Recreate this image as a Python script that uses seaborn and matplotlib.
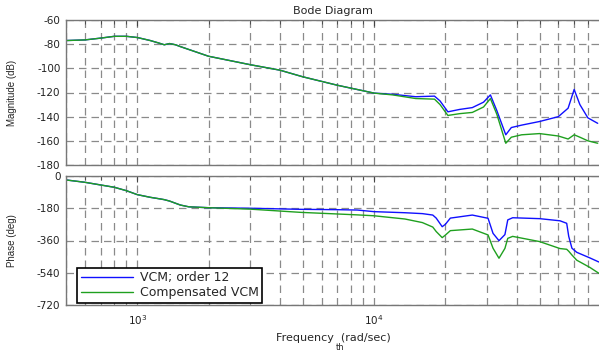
import numpy as np
import pandas as pd
import matplotlib
matplotlib.use("Agg")
import matplotlib.pyplot as plt
from matplotlib.ticker import LogLocator, NullFormatter, FixedLocator
import seaborn as sns

# Values
freq_mag = [500, 600, 700, 800, 900, 1000, 1135, 1230, 1300, 1370, 1450, 1520,
            2000, 3000, 4000, 5000, 7000, 10000, 12000, 15000, 18000, 19000,
            20500, 23000, 26000, 29000, 31000, 33000, 36000, 38000, 42000,
            50000, 60000, 66000, 70000, 74000, 80000, 88000]
mag_vcm = [-77, -76.5, -75, -73.5, -73.5, -74.5, -77, -79, -80.5, -79.5, -80.5, -82,
           -90, -97, -101.5, -107, -114, -120.5, -121.5, -123.5, -123, -127,
           -136, -134, -132.5, -128, -122, -135, -155, -149, -147,
           -144, -140, -133, -117.5, -130, -141, -145.5]
mag_comp = [-77, -76.5, -75, -73.5, -73.5, -74.5, -77, -79, -80.5, -79.5, -80.5, -82,
            -90, -97, -101.5, -107, -114, -120.5, -122, -125, -125.5, -130,
            -139, -137.5, -136.5, -132, -125, -138, -162, -157, -155,
            -154, -156, -158.5, -155, -157, -160, -162]

freq_ph = [500, 600, 700, 800, 900, 1000, 1135, 1250, 1300, 1370, 1520, 1650,
           2000, 3000, 4900, 7000, 8500, 10000, 13500, 16000, 17700, 18300,
           19400, 20000, 21000, 26000, 30300, 31800, 33700, 35700, 36700,
           38500, 50000, 61000, 65100, 66400, 68500, 71800, 81500, 89000]
ph_vcm = [-22, -35, -50, -63, -82, -104, -119, -128, -132, -140, -162, -172,
          -177, -180, -186, -188, -190, -199, -205, -210, -218, -235,
          -283, -270, -235, -218, -236, -320, -361, -327, -245,
          -233, -238, -250, -264, -337, -403, -426, -457, -480]
ph_comp = [-22, -35, -50, -63, -82, -104, -119, -128, -132, -140, -162, -172,
           -177, -185, -203, -212, -217, -222, -240, -260, -285, -310,
           -344, -330, -305, -296, -329, -403, -459, -404, -348,
           -337, -366, -405, -409, -420, -441, -470, -510, -543]

labels = ["VCM; order 12", "Compensated VCM"]
colors = ["#1010ff", "#1fa01f"]

mag_df = pd.concat([
    pd.DataFrame({"freq": freq_mag, "val": mag_vcm, "series": labels[0]}),
    pd.DataFrame({"freq": freq_mag, "val": mag_comp, "series": labels[1]}),
])
ph_df = pd.concat([
    pd.DataFrame({"freq": freq_ph, "val": ph_vcm, "series": labels[0]}),
    pd.DataFrame({"freq": freq_ph, "val": ph_comp, "series": labels[1]}),
])

sns.set_style("white")
plt.rcParams["font.family"] = ["DejaVu Sans"]
plt.rcParams["mathtext.default"] = "regular"
plt.rcParams["axes.unicode_minus"] = False

fig = plt.figure(figsize=(5.99, 3.51), dpi=100)
ax1 = fig.add_axes([66 / 599, 186 / 351, 534 / 599, 145 / 351])
ax2 = fig.add_axes([66 / 599, 46 / 351, 534 / 599, 129 / 351])

pal = dict(zip(labels, colors))
sns.lineplot(data=mag_df, x="freq", y="val", hue="series", palette=pal,
             sort=False, estimator=None, lw=1, ax=ax1, legend=False)
sns.lineplot(data=ph_df, x="freq", y="val", hue="series", palette=pal,
             sort=False, estimator=None, lw=1, ax=ax2)

grid_kw = dict(color="#8a8a8a", lw=0.9, ls=(0, (6, 4)))
for ax in (ax1, ax2):
    ax.set_xscale("log")
    ax.set_xlim(500, 90000)
    ax.xaxis.set_major_locator(FixedLocator([1e3, 1e4]))
    ax.xaxis.set_minor_locator(LogLocator(base=10, subs=np.arange(2, 10), numticks=20))
    ax.xaxis.set_minor_formatter(NullFormatter())
    ax.grid(True, which="both", axis="x", **grid_kw)
    ax.grid(True, which="major", axis="y", **grid_kw)
    ax.tick_params(axis="both", which="both", direction="in", top=True,
                   labelsize=7.5, labelcolor="#222222", color="#444444")
    ax.tick_params(which="major", length=4)
    ax.tick_params(which="minor", length=3)
    ax.tick_params(axis="y", right=False, pad=4)
    for s in ax.spines.values():
        s.set_color("#777777")
        s.set_linewidth(1)
    ax.set_xlabel("")
    ax.yaxis.set_label_coords(-49 / 534, 0.5)

ax1.set_ylim(-180, -60)
ax1.set_yticks(np.arange(-180, -59, 20))
ax1.set_xticklabels([])
ax1.set_ylabel("Magnitude (dB)", fontsize=7, family="Liberation Sans")
ax1.set_title("Bode Diagram", fontsize=8, pad=4)

ax2.set_ylim(-720, 0)
ax2.set_yticks([-720, -540, -360, -180, 0])
ax2.set_xticklabels(["$10^3$", "$10^4$"])
ax2.tick_params(axis="x", pad=6)
ax2.set_ylabel("Phase (deg)", fontsize=7, family="Liberation Sans")
ax2.set_xlabel("Frequency  (rad/sec)", fontsize=8, labelpad=4)

ax2.legend(loc="lower left", bbox_to_anchor=(11 / 534, 2 / 129), borderaxespad=0,
           fontsize=9, frameon=True, fancybox=False, edgecolor="black",
           framealpha=1, handlelength=4.2, handletextpad=0.5,
           borderpad=0.3, labelspacing=0.15)
ax2.get_legend().get_frame().set_linewidth(1.2)

fig.text(0.567, -0.004, "th", fontsize=6, ha="center", va="bottom")

fig.savefig("out.png", dpi=100)
